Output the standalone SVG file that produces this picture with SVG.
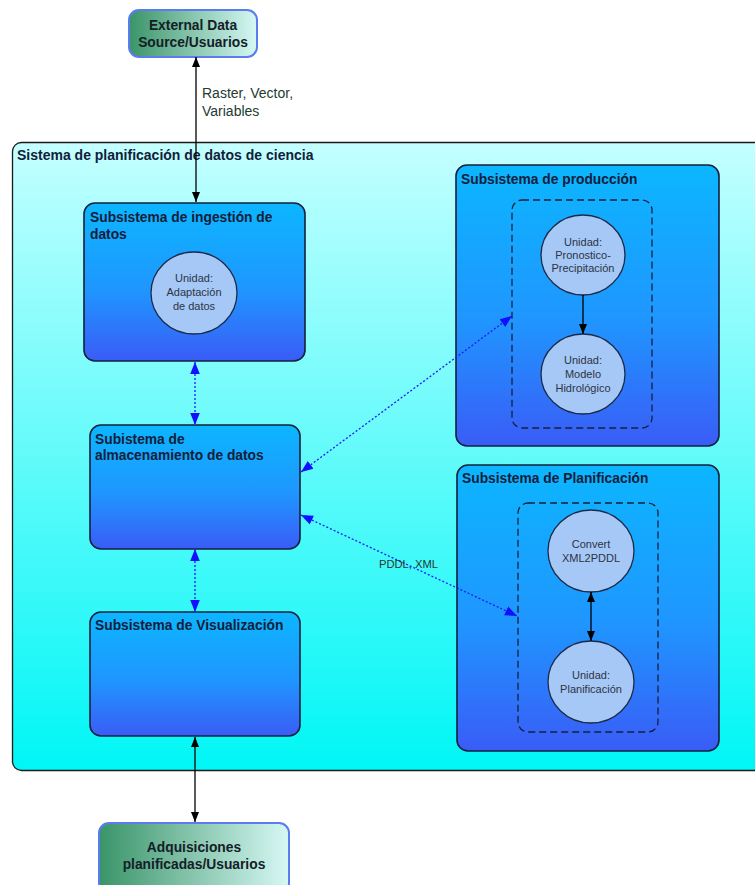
<svg xmlns="http://www.w3.org/2000/svg" width="755" height="885" viewBox="0 0 755 885">
  <defs>
    <linearGradient id="gOuter" x1="0" y1="0" x2="0" y2="1">
      <stop offset="0" stop-color="#c4ffff"/>
      <stop offset="1" stop-color="#00f6f6"/>
    </linearGradient>
    <linearGradient id="gSub" x1="0" y1="0" x2="0" y2="1">
      <stop offset="0" stop-color="#0cb6ff"/>
      <stop offset="0.55" stop-color="#1f96ff"/>
      <stop offset="1" stop-color="#3a5cf6"/>
    </linearGradient>
    <linearGradient id="gExt" x1="0" y1="0" x2="1" y2="0">
      <stop offset="0" stop-color="#3a9468"/>
      <stop offset="1" stop-color="#d6f8f4"/>
    </linearGradient>
    <marker id="ahBlack" viewBox="0 0 10 10" refX="10" refY="5" markerWidth="10" markerHeight="10" markerUnits="userSpaceOnUse" orient="auto-start-reverse">
      <path d="M0,1 L10,5 L0,9 Z" fill="#000"/>
    </marker>
    <marker id="ahBlue" viewBox="0 0 10 10" refX="10" refY="5" markerWidth="12" markerHeight="12" markerUnits="userSpaceOnUse" orient="auto-start-reverse">
      <path d="M0,1 L10,5 L0,9 Z" fill="#1010ff"/>
    </marker>
  </defs>
  <style>
    .sub { fill: url(#gSub); stroke: #14203c; stroke-width: 1.6; }
    .ext { fill: url(#gExt); stroke: #5a7cf0; stroke-width: 2; }
    .unit { fill: #a6c8f6; stroke: #1c2a48; stroke-width: 1.3; }
    .group { fill: none; stroke: #14203c; stroke-width: 1.3; stroke-dasharray: 7,4; }
    .title { font-family: "Liberation Sans", Arial, sans-serif; font-weight: bold; font-size: 13.8px; fill: #12203a; }
    .outerTitle { font-size: 14px; }
    .extText { font-family: "Liberation Sans", Arial, sans-serif; font-weight: bold; font-size: 13.8px; fill: #142028; text-anchor: middle; }
    .unitText { font-family: "Liberation Sans", Arial, sans-serif; font-size: 11px; fill: #2c3444; text-anchor: middle; }
    .label { font-family: "Liberation Sans", Arial, sans-serif; font-size: 14px; fill: #243a30; }
    .small { font-size: 11.2px; }
    .flow { stroke: #000; stroke-width: 1.3; fill: none; }
    .data { stroke: #1818ff; stroke-width: 1.3; stroke-dasharray: 2,2; fill: none; }
  </style>

  <rect width="755" height="885" fill="#ffffff"/>

  <!-- Science data planning system (container) -->
  <g id="sistema">
    <rect x="12.5" y="142.5" width="760" height="628" rx="9" fill="url(#gOuter)" stroke="#1a1a1a" stroke-width="1.3"/>
    <text class="title outerTitle" x="17" y="160">Sistema de planificación de datos de ciencia</text>
  </g>

  <!-- External actors -->
  <g id="external">
    <rect class="ext" x="129" y="10" width="128" height="47" rx="10"/>
    <text class="extText" x="193" y="30">External Data</text>
    <text class="extText" x="193" y="47">Source/Usuarios</text>
  </g>
  <g id="adquisiciones">
    <rect class="ext" x="99" y="823" width="190" height="70" rx="10"/>
    <text class="extText" x="194" y="852">Adquisiciones</text>
    <text class="extText" x="194" y="869">planificadas/Usuarios</text>
  </g>

  <!-- Left column subsystems -->
  <g id="ingestion">
    <rect class="sub" x="84" y="203" width="221" height="158" rx="11"/>
    <text class="title" x="90" y="222">Subsistema de ingestión de</text>
    <text class="title" x="90" y="239">datos</text>
    <ellipse class="unit" cx="194" cy="293" rx="43" ry="41"/>
    <text class="unitText" x="194" y="282">Unidad:</text>
    <text class="unitText" x="194" y="296">Adaptación</text>
    <text class="unitText" x="194" y="310">de datos</text>
  </g>
  <g id="almacenamiento">
    <rect class="sub" x="90" y="425" width="210" height="124" rx="11"/>
    <text class="title" x="95" y="444">Subistema de</text>
    <text class="title" x="95" y="460">almacenamiento de datos</text>
  </g>
  <g id="visualizacion">
    <rect class="sub" x="90" y="612" width="210" height="124" rx="11"/>
    <text class="title" x="95" y="630">Subsistema de Visualización</text>
  </g>

  <!-- Production subsystem -->
  <g id="produccion">
    <rect class="sub" x="456" y="165" width="263" height="281" rx="11"/>
    <text class="title" x="461" y="184">Subsistema de producción</text>
    <rect class="group" x="512" y="200" width="140" height="228" rx="10"/>
    <ellipse class="unit" cx="583" cy="255" rx="42" ry="40"/>
    <text class="unitText" x="583" y="246">Unidad:</text>
    <text class="unitText" x="583" y="259">Pronostico-</text>
    <text class="unitText" x="583" y="272">Precipitación</text>
    <ellipse class="unit" cx="583" cy="374" rx="42" ry="40"/>
    <text class="unitText" x="583" y="364">Unidad:</text>
    <text class="unitText" x="583" y="378">Modelo</text>
    <text class="unitText" x="583" y="392">Hidrológico</text>
  </g>

  <!-- Planning subsystem -->
  <g id="planificacion">
    <rect class="sub" x="457" y="465" width="262" height="286" rx="11"/>
    <text class="title" x="462" y="483">Subsistema de Planificación</text>
    <rect class="group" x="518" y="503" width="140" height="229" rx="10"/>
    <ellipse class="unit" cx="591" cy="551" rx="43" ry="41"/>
    <text class="unitText" x="591" y="548">Convert</text>
    <text class="unitText" x="591" y="562">XML2PDDL</text>
    <ellipse class="unit" cx="591" cy="682" rx="43" ry="41"/>
    <text class="unitText" x="591" y="679">Unidad:</text>
    <text class="unitText" x="591" y="693">Planificación</text>
  </g>

  <!-- Connectors -->
  <g id="connectors">
    <line class="flow" x1="196" y1="57" x2="196" y2="202" marker-start="url(#ahBlack)" marker-end="url(#ahBlack)"/>
    <text class="label" x="202" y="98">Raster, Vector,</text>
    <text class="label" x="202" y="116">Variables</text>
    <line class="data" x1="195" y1="362" x2="195" y2="425" marker-start="url(#ahBlue)" marker-end="url(#ahBlue)"/>
    <line class="data" x1="195" y1="549" x2="195" y2="612" marker-start="url(#ahBlue)" marker-end="url(#ahBlue)"/>
    <line class="flow" x1="195" y1="737" x2="195" y2="822" marker-start="url(#ahBlack)" marker-end="url(#ahBlack)"/>
    <line class="data" x1="301" y1="472" x2="512" y2="316" marker-start="url(#ahBlue)" marker-end="url(#ahBlue)"/>
    <line class="data" x1="301" y1="515" x2="517" y2="616" marker-start="url(#ahBlue)" marker-end="url(#ahBlue)"/>
    <text class="label small" x="379" y="568">PDDL, XML</text>
    <line class="flow" x1="583" y1="295" x2="583" y2="334" marker-end="url(#ahBlack)"/>
    <line class="flow" x1="591" y1="592" x2="591" y2="641" marker-start="url(#ahBlack)" marker-end="url(#ahBlack)"/>
  </g>
</svg>
